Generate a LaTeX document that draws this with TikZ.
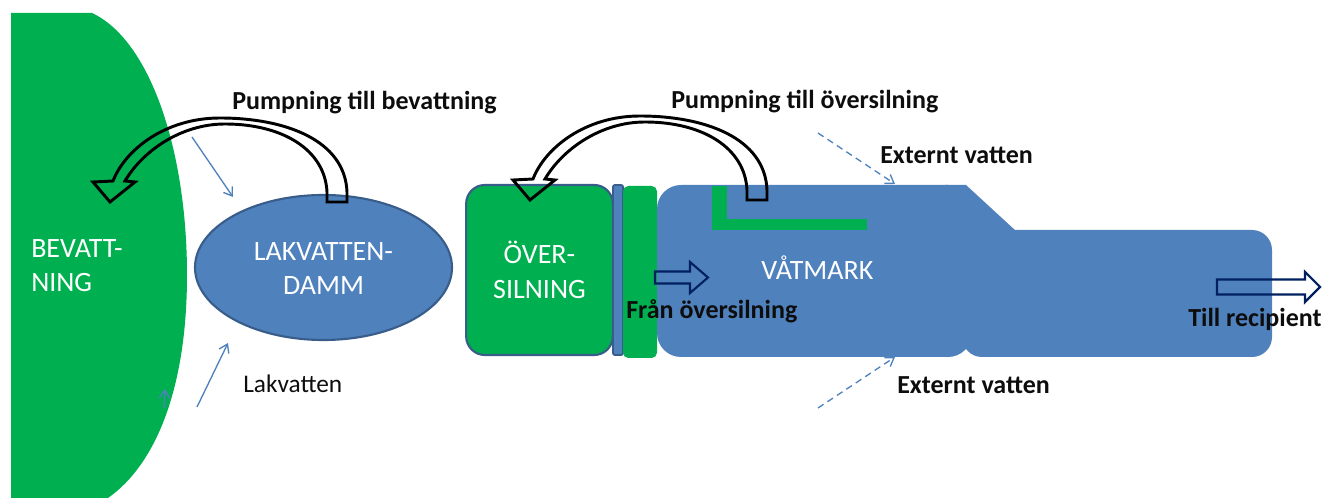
\documentclass[tikz,border=0pt]{standalone}
\usepackage{fontspec}
\setmainfont{Carlito}
\usetikzlibrary{shapes.geometric,arrows.meta}
\definecolor{grn}{HTML}{00B050}
\definecolor{blu}{HTML}{4F81BD}
\definecolor{bdr}{HTML}{385D8A}
\definecolor{navy}{HTML}{002060}
\definecolor{ink}{HTML}{0D0D0D}
\tikzset{
  whitelbl/.style={text=white, font=\fontsize{21}{26}\selectfont, inner sep=0pt},
  blacklbl/.style={text=ink, font=\fontsize{19.5}{24}\selectfont\bfseries, inner sep=0pt, anchor=base west},
  plainlbl/.style={text=ink, font=\fontsize{19}{24}\selectfont, inner sep=0pt, anchor=base west},
  curvarrow/.style={draw=black, line width=2.2pt, line join=miter, fill=none},
  blockarrow/.style={draw=navy, line width=1.6pt, line join=miter, fill=none},
  thinarrow/.style={draw=blu, line width=1pt, -{Straight Barb[length=6pt,width=8pt]}},
  dasharrow/.style={draw=blu, line width=1pt, dash pattern=on 5pt off 3.5pt, -{Straight Barb[length=6pt,width=8pt]}},
}
\begin{document}
\begin{tikzpicture}[x=0.75pt,y=-0.75pt]
\useasboundingbox (0,0) rectangle (1329,498);
% BEVATTNING green field
\fill[grn] (11,13) -- (92,13) .. controls (150,40) and (187,150) .. (187,275)
  .. controls (187,390) and (155,465) .. (108,498) -- (11,498) -- cycle;
\node[whitelbl, anchor=west, align=left] (bev) at (31,265.5) {BEVATT-\\NING};
% LAKVATTENDAMM
\node[ellipse, draw=bdr, fill=blu, line width=1.6pt, minimum width=192.75pt, minimum height=108.75pt, inner sep=0pt] (damm) at (323.5,267.5) {};
\node[whitelbl, align=center] (dammlbl) at (323.5,268.5) {LAKVATTEN-\\DAMM};
% OVERSILNING
\node[draw=bdr, fill=grn, line width=1.6pt, rounded corners=14pt, minimum width=110pt, minimum height=127.5pt, inner sep=0pt] (over) at (539.5,270) {};
\node[whitelbl, align=center] (overlbl) at (539.5,270) {ÖVER-\\SILNING};
\filldraw[fill=blu, draw=bdr, line width=1.4pt, rounded corners=1.5pt] (613,185) rectangle (623,355);
\fill[grn, rounded corners=4pt] (623,186) rectangle (657,358);
% VATMARK
\fill[blu, rounded corners=18pt] (657,185) rectangle (972,357);
\fill[blu, rounded corners=15pt] (962,230) rectangle (1272,357);
\fill[blu] (945,185) -- (966,185) -- (1016,231) -- (1016,260) -- (945,260) -- cycle;
\fill[grn] (712,186) rectangle (727,230);
\fill[grn] (712,219) rectangle (867,230);
\node[whitelbl, anchor=base west] (vat) at (761,280) {VÅTMARK};
% curved pump arrows
\draw[curvarrow] (327,202) -- (347,202) -- (347,192) .. controls (345,140) and (285,118) .. (220,118)
  .. controls (165,118) and (125,150) .. (113,181) -- (93,182) -- (110,202) -- (135,182) -- (125,181)
  .. controls (142,152) and (180,124) .. (225,124) .. controls (283,124) and (325,150) .. (327,192) -- cycle;
\begin{scope}[shift={(420,-2)}]
\draw[curvarrow] (327,202) -- (347,202) -- (347,192) .. controls (345,140) and (285,118) .. (220,118)
  .. controls (165,118) and (125,150) .. (113,181) -- (93,182) -- (110,202) -- (135,182) -- (125,181)
  .. controls (142,152) and (180,124) .. (225,124) .. controls (283,124) and (325,150) .. (327,192) -- cycle;
\end{scope}
% block arrows
\draw[blockarrow] (655,271.5) -- (690,271.5) -- (690,262) -- (708,277.5) -- (690,293) -- (690,283.5) -- (655,283.5) -- cycle;
\draw[blockarrow] (1217,279.5) -- (1305,279.5) -- (1305,272) -- (1320,287) -- (1305,302) -- (1305,294.5) -- (1217,294.5) -- cycle;
% thin inflow arrows
\coordinate (a1s) at (192,137); \coordinate (a1e) at (233,197);
\coordinate (a2s) at (197,407); \coordinate (a2e) at (228,343);
\coordinate (a3s) at (164,408); \coordinate (a3e) at (165,389);
\draw[thinarrow] (a1s) -- (a1e);
\draw[thinarrow] (a2s) -- (a2e);
\draw[thinarrow] (a3s) -- (a3e);
\coordinate (d1s) at (818,133); \coordinate (d1e) at (895,184);
\coordinate (d2s) at (818,408); \coordinate (d2e) at (895,357);
\draw[dasharrow] (d1s) -- (d1e);
\draw[dasharrow] (d2s) -- (d2e);
% labels
\node[blacklbl] (pb) at (232,110) {Pumpning till bevattning};
\node[blacklbl] (po) at (671,109) {Pumpning till översilning};
\node[blacklbl] (ex1) at (880,164) {Externt vatten};
\node[blacklbl] (ex2) at (897,394) {Externt vatten};
\node[blacklbl] (fran) at (626,319) {Från översilning};
\node[blacklbl] (till) at (1188,327) {Till recipient};
\node[plainlbl] (lak) at (243,393) {Lakvatten};
\end{tikzpicture}
\end{document}
